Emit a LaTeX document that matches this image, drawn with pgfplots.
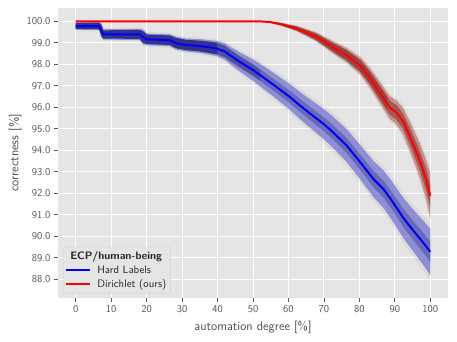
\documentclass[border=0pt]{standalone}
\usepackage{pgfplots}
\pgfplotsset{compat=1.18}
\usepackage{pgfplotstable}
\usepgfplotslibrary{fillbetween}
\renewcommand{\familydefault}{\sfdefault}
\definecolor{bgc}{HTML}{E5E5E5}
\definecolor{tickc}{HTML}{555555}
\definecolor{bandB}{RGB}{110,110,210}
\definecolor{coreB}{RGB}{20,20,110}
\definecolor{bandR}{RGB}{190,90,85}
\definecolor{coreR}{RGB}{110,25,20}

\pgfplotstableread{
x m w c
0 99.78 0.17 0.14
6.6 99.78 0.18 0.15
7.2 99.58 0.32 0.26
7.8 99.39 0.24 0.19
18.0 99.39 0.26 0.21
19.0 99.27 0.34 0.27
20.1 99.16 0.27 0.22
26.5 99.12 0.28 0.22
28.4 98.98 0.30 0.24
31 98.90 0.30 0.24
35 98.85 0.32 0.25
39.6 98.74 0.35 0.27
42 98.60 0.38 0.27
43.4 98.43 0.40 0.27
46.2 98.12 0.44 0.26
50 97.73 0.50 0.27
53 97.38 0.53 0.27
56.5 96.96 0.56 0.28
60.3 96.49 0.60 0.29
63.1 96.10 0.63 0.30
66 95.72 0.66 0.31
69.7 95.25 0.70 0.32
72 94.92 0.72 0.33
76.3 94.24 0.76 0.35
80.3 93.43 0.80 0.36
84 92.65 0.84 0.38
86.8 92.19 0.87 0.39
89.5 91.57 0.90 0.40
92.3 90.87 0.93 0.42
95 90.30 0.97 0.44
97.5 89.80 1.02 0.46
100 89.27 1.08 0.48
}\hardtab

\pgfplotstableread{
x m w c
0 100 0 0
52 100 0 0
55 99.96 0.04 0.03
58 99.86 0.07 0.05
62.2 99.67 0.12 0.09
65 99.48 0.16 0.12
67.8 99.28 0.20 0.15
71.5 98.90 0.26 0.19
74 98.65 0.30 0.22
76.3 98.43 0.33 0.24
78.5 98.15 0.37 0.26
80.3 97.92 0.40 0.28
82.9 97.38 0.45 0.30
85.8 96.68 0.50 0.32
88.6 95.98 0.53 0.33
90.5 95.75 0.56 0.34
92.3 95.36 0.62 0.36
94.6 94.51 0.70 0.40
96.9 93.58 0.80 0.45
98.8 92.65 0.92 0.50
100 91.88 1.05 0.55
}\dirtab

\begin{document}
\begin{tikzpicture}
\begin{axis}[
  scale only axis, width=390pt, height=290pt,
  xmin=-5, xmax=105, ymin=87.12, ymax=100.62,
  axis background/.style={fill=bgc},
  axis line style={draw=none},
  grid=major, major grid style={white, line width=1pt},
  tick pos=left, tick align=outside,
  major tick length=4pt,
  major tick style={tickc, line width=0.8pt},
  xtick={0,10,...,100},
  ytick={88,89,...,100},
  yticklabel style={/pgf/number format/.cd, fixed, fixed zerofill, precision=1},
  /pgf/number format/assume math mode=true,
  tick label style={font=\fontsize{10.5}{12.6}\selectfont, text=tickc},
  label style={font=\fontsize{12.6}{15}\selectfont, text=black!70},
  xlabel={automation degree [\%]},
  ylabel={correctness [\%]},
  xlabel style={at={(axis description cs:0.5,-0.1)}, anchor=center},
  ylabel style={at={(axis description cs:-0.11,0.5)}, anchor=center},
  legend style={at={(axis description cs:0.013,0.016)}, anchor=south west,
    fill=bgc, draw=black!20, rounded corners=2pt, font=\fontsize{10.8}{13}\selectfont,
    text=black!85, inner sep=2pt, row sep=1pt, column sep=4pt,
    nodes={inner sep=2pt}},
  legend cell align=left,
  legend image code/.code={\draw[#1] (0pt,0pt) -- (24pt,0pt);},
]
\addlegendimage{empty legend}
\addlegendentry{\hspace*{-27pt}\textbf{ECP/human-being}}

% Hard labels bands
\addplot[draw=none, name path=bgl, forget plot] table[x=x, y expr=\thisrow{m}-1.25*\thisrow{w}] {\hardtab};
\addplot[draw=none, name path=bgh, forget plot] table[x=x, y expr={min(100,\thisrow{m}+1.25*\thisrow{w})}] {\hardtab};
\addplot[fill=gray, fill opacity=0.1, forget plot] fill between[of=bgl and bgh];
\addplot[draw=none, name path=bol, forget plot] table[x=x, y expr=\thisrow{m}-\thisrow{w}] {\hardtab};
\addplot[draw=none, name path=boh, forget plot] table[x=x, y expr={min(100,\thisrow{m}+\thisrow{w})}] {\hardtab};
\addplot[fill=bandB, fill opacity=0.7, forget plot] fill between[of=bol and boh];
\addplot[draw=none, name path=bil, forget plot] table[x=x, y expr=\thisrow{m}-\thisrow{c}] {\hardtab};
\addplot[draw=none, name path=bih, forget plot] table[x=x, y expr={min(100,\thisrow{m}+\thisrow{c})}] {\hardtab};
\addplot[fill=coreB, fill opacity=0.75, forget plot] fill between[of=bil and bih, soft clip={domain=-1:40}];
\addplot[fill=coreB, fill opacity=0.5, forget plot] fill between[of=bil and bih, soft clip={domain=40:52}];
\addplot[fill=coreB, fill opacity=0.3, forget plot] fill between[of=bil and bih, soft clip={domain=52:101}];

% Dirichlet bands
\addplot[draw=none, name path=rgl, forget plot] table[x=x, y expr=\thisrow{m}-1.25*\thisrow{w}] {\dirtab};
\addplot[draw=none, name path=rgh, forget plot] table[x=x, y expr={min(100,\thisrow{m}+1.25*\thisrow{w})}] {\dirtab};
\addplot[fill=gray, fill opacity=0.1, forget plot] fill between[of=rgl and rgh];
\addplot[draw=none, name path=rol, forget plot] table[x=x, y expr=\thisrow{m}-\thisrow{w}] {\dirtab};
\addplot[draw=none, name path=roh, forget plot] table[x=x, y expr={min(100,\thisrow{m}+\thisrow{w})}] {\dirtab};
\addplot[fill=bandR, fill opacity=0.6, forget plot] fill between[of=rol and roh];
\addplot[draw=none, name path=ril, forget plot] table[x=x, y expr=\thisrow{m}-\thisrow{c}] {\dirtab};
\addplot[draw=none, name path=rih, forget plot] table[x=x, y expr={min(100,\thisrow{m}+\thisrow{c})}] {\dirtab};
\addplot[fill=coreR, fill opacity=0.6, forget plot] fill between[of=ril and rih, soft clip={domain=50:88}];
\addplot[fill=coreR, fill opacity=0.45, forget plot] fill between[of=ril and rih, soft clip={domain=88:101}];

\addplot[blue, line width=2pt] table[x=x, y=m] {\hardtab};
\addlegendentry{Hard Labels}
\addplot[red, line width=2pt] table[x=x, y=m] {\dirtab};
\addlegendentry{Dirichlet (ours)}
\end{axis}
\pgfresetboundingbox
\path[use as bounding box] (-58pt,-44pt) rectangle (399pt,298pt);
\end{tikzpicture}
\end{document}
